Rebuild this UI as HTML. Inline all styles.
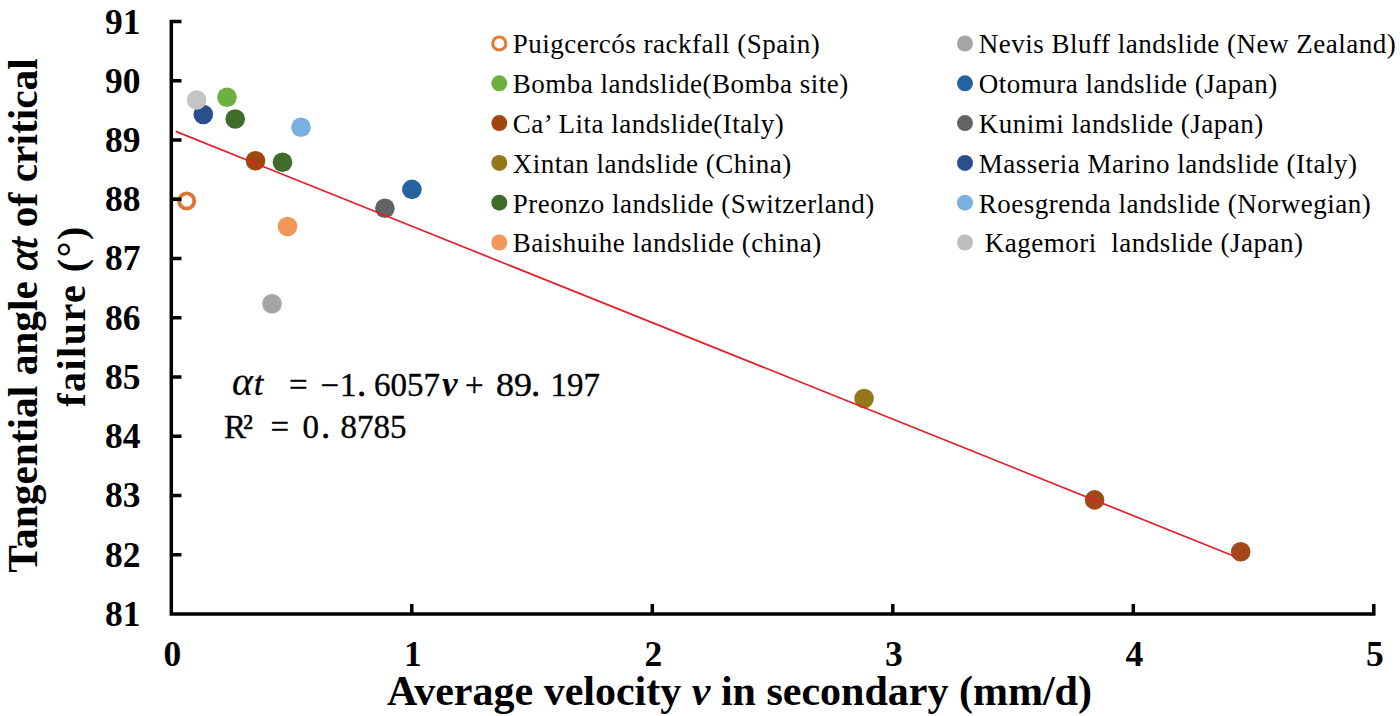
<!DOCTYPE html>
<html><head><meta charset="utf-8">
<style>
html,body{margin:0;padding:0;background:#fff;width:1400px;height:716px;overflow:hidden}
svg{display:block}
.b{font-family:"Liberation Serif",serif;font-weight:bold;fill:#000}
.lg{font-family:"Liberation Serif",serif;font-size:27px;fill:#000;letter-spacing:0.5px}
.eq{font-family:"Liberation Serif",serif;font-size:33px;fill:#000}
</style></head><body>
<svg width="1400" height="716" viewBox="0 0 1400 716">
<rect width="1400" height="716" fill="#fff"/>

<g stroke="#000" stroke-width="3.5" fill="none" stroke-linejoin="miter">
<path d="M181.5 21.6 H171.3 V613.9 H1373.8 V604"/>
<path d="M171.3 554.7 H181.5 M171.3 495.4 H181.5 M171.3 436.2 H181.5 M171.3 377.0 H181.5 M171.3 317.8 H181.5 M171.3 258.5 H181.5 M171.3 199.3 H181.5 M171.3 140.1 H181.5 M171.3 80.8 H181.5"/>
<path d="M411.8 613.9 V604 M652.3 613.9 V604 M892.8 613.9 V604 M1133.3 613.9 V604"/>
</g>
<g class="b" font-size="35.5" text-anchor="end">
<text x="140.5" y="33.5">91</text>
<text x="140.5" y="92.7">90</text>
<text x="140.5" y="152.0">89</text>
<text x="140.5" y="211.2">88</text>
<text x="140.5" y="270.4">87</text>
<text x="140.5" y="329.6">86</text>
<text x="140.5" y="388.9">85</text>
<text x="140.5" y="448.1">84</text>
<text x="140.5" y="507.3">83</text>
<text x="140.5" y="566.6">82</text>
<text x="140.5" y="625.8">81</text>
</g>
<g class="b" font-size="35.5" text-anchor="middle">
<text x="172.3" y="666">0</text>
<text x="412.8" y="666">1</text>
<text x="653.3" y="666">2</text>
<text x="893.8" y="666">3</text>
<text x="1134.3" y="666">4</text>
<text x="1374.8" y="666">5</text>
</g>
<text class="b" font-size="42" x="387" y="705">Average velocity <tspan font-style="italic">v</tspan> in secondary (mm/d)</text>
<g transform="translate(37,315.5) rotate(-90)"><text class="b" font-size="41.4" x="0" y="0" text-anchor="middle">Tangential angle <tspan font-style="italic" font-weight="normal" stroke="#000" stroke-width="1">αt</tspan> of critical</text></g>
<g transform="translate(85,316) rotate(-90)"><text class="b" font-size="40" x="0" y="0" text-anchor="middle" letter-spacing="1.5">failure (°)</text></g>
<g>
<circle cx="186.7" cy="201.0" r="7.6" fill="#fff" stroke="#D9783A" stroke-width="3.9"/>
<circle cx="203.3" cy="114.5" r="9.8" fill="#2A4F8C"/>
<circle cx="196.6" cy="100.0" r="9.8" fill="#C4C4C4"/>
<circle cx="227.0" cy="97.2" r="9.8" fill="#6DB040"/>
<circle cx="235.2" cy="119.0" r="9.8" fill="#3F6B2B"/>
<circle cx="301.0" cy="127.2" r="9.8" fill="#7AB0E0"/>
<circle cx="255.5" cy="160.7" r="9.8" fill="#9E480E"/>
<circle cx="282.5" cy="162.2" r="9.8" fill="#3F6B2B"/>
<circle cx="287.5" cy="226.5" r="9.8" fill="#F1975A"/>
<circle cx="272.0" cy="303.7" r="9.8" fill="#A5A5A5"/>
<circle cx="384.9" cy="208.2" r="9.8" fill="#636363"/>
<circle cx="411.9" cy="189.4" r="9.8" fill="#2563A0"/>
<circle cx="864.1" cy="398.5" r="9.8" fill="#93771A"/>
<circle cx="1094.6" cy="499.9" r="9.8" fill="#A2481A"/>
<circle cx="1240.7" cy="551.7" r="9.8" fill="#A2481A"/>
</g>
<path d="M171.3 199.3 H181.5" stroke="#000" stroke-width="3.5"/>
<line x1="175.7" y1="131.4" x2="1233" y2="555.7" stroke="#E3202C" stroke-width="1.7"/>
<g>
<circle cx="499.3" cy="43.5" r="6.6" fill="#fff" stroke="#E07B36" stroke-width="3"/>
<circle cx="965" cy="43.5" r="8" fill="#A5A5A5"/>
<circle cx="499.3" cy="83.3" r="8" fill="#6DB040"/>
<circle cx="965" cy="83.3" r="8" fill="#2563A0"/>
<circle cx="499.3" cy="123.1" r="8" fill="#9E480E"/>
<circle cx="965" cy="123.1" r="8" fill="#636363"/>
<circle cx="499.3" cy="162.9" r="8" fill="#93771A"/>
<circle cx="965" cy="162.9" r="8" fill="#2A4F8C"/>
<circle cx="499.3" cy="202.7" r="8" fill="#3F6B2B"/>
<circle cx="965" cy="202.7" r="8" fill="#7AB0E0"/>
<circle cx="499.3" cy="242.5" r="8" fill="#F1975A"/>
<circle cx="965" cy="242.5" r="8" fill="#BDBDBD"/>
</g><g class="lg">
<text x="512.8" y="53.4">Puigcercós rackfall (Spain)</text>
<text x="978.8" y="53.4">Nevis Bluff landslide (New Zealand)</text>
<text x="512.8" y="93.2">Bomba landslide(Bomba site)</text>
<text x="978.8" y="93.2">Otomura landslide (Japan)</text>
<text x="512.8" y="133.0">Ca’ Lita landslide(Italy)</text>
<text x="978.8" y="133.0">Kunimi landslide (Japan)</text>
<text x="512.8" y="172.8">Xintan landslide (China)</text>
<text x="978.8" y="172.8">Masseria Marino landslide (Italy)</text>
<text x="512.8" y="212.6">Preonzo landslide (Switzerland)</text>
<text x="978.8" y="212.6">Roesgrenda landslide (Norwegian)</text>
<text x="512.8" y="252.4">Baishuihe landslide (china)</text>
<text x="984.8" y="252.4">Kagemori&#160; landslide (Japan)</text>
</g>
<g class="eq" stroke="#000" stroke-width="0.35">
<text x="232" y="395.3" font-style="italic" font-size="40" stroke-width="0.2">α</text>
<text x="254" y="395.3" font-style="italic" stroke-width="0.5">t</text>
<text x="289" y="395.5">=</text>
<text x="320.5" y="395.5">−</text>
<text x="340" y="395.5">1</text>
<text x="357.5" y="395.5" stroke-width="1">.</text>
<text x="374" y="395.5">6057</text>
<text x="442" y="395.5" font-style="italic" font-weight="bold" font-size="35" stroke-width="0">v</text>
<text x="465" y="395.5">+</text>
<text x="496" y="395.5" textLength="36" lengthAdjust="spacingAndGlyphs">89</text>
<text x="531.5" y="395.5" stroke-width="1">.</text>
<text x="550.5" y="395.5">197</text>
<text x="224" y="437.8">R</text>
<text x="243" y="437.8">²</text>
<text x="270.5" y="437.8">=</text>
<text x="302.5" y="437.8">0</text>
<text x="321.5" y="437.8" stroke-width="1">.</text>
<text x="340.5" y="437.8">8785</text>
</g>
</svg>
</body></html>
